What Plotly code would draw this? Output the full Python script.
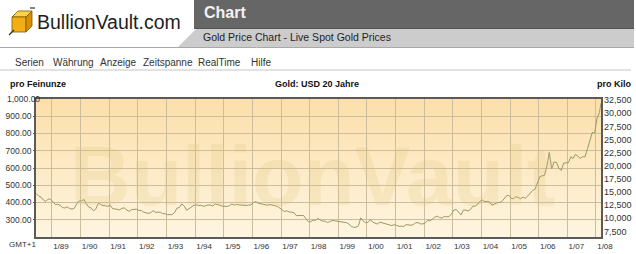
import base64
import pandas as pd
import plotly.graph_objects as go

# ---------------- data (monthly gold price, USD per troy ounce) ----------------
first_month = "1988-06-01"
gold_usd_oz = [
    # 1988 Jun-Dec
    452, 438, 431, 414, 406, 420, 419,
    # 1989
    404, 388, 390, 384, 371, 368, 375, 365, 362, 367, 394, 409,
    # 1990
    410, 417, 393, 374, 369, 352, 362, 395, 389, 381, 381, 378,
    # 1991
    384, 364, 363, 358, 357, 367, 368, 356, 349, 359, 360, 361,
    # 1992
    354, 354, 344, 339, 337, 341, 353, 343, 345, 344, 335, 335,
    # 1993
    329, 329, 330, 342, 367, 371, 392, 380, 355, 364, 374, 383,
    # 1994
    387, 382, 384, 378, 381, 386, 385, 380, 392, 390, 384, 379,
    # 1995
    379, 377, 382, 391, 385, 388, 386, 384, 383, 383, 385, 387,
    # 1996
    400, 405, 396, 393, 392, 385, 384, 388, 383, 381, 378, 369,
    # 1997
    355, 347, 352, 345, 344, 341, 324, 324, 323, 325, 306, 289,
    # 1998
    289, 298, 296, 308, 299, 292, 293, 284, 289, 296, 294, 292,
    # 1999
    287, 287, 286, 283, 276, 261, 256, 257, 265, 311, 293, 283,
    # 2000
    285, 301, 286, 280, 275, 286, 282, 275, 274, 270, 266, 272,
    # 2001
    266, 262, 263, 261, 272, 270, 268, 272, 283, 283, 276, 276,
    # 2002
    282, 296, 294, 303, 315, 321, 313, 310, 319, 317, 319, 333,
    # 2003
    357, 359, 341, 328, 356, 356, 351, 360, 379, 379, 390, 408,
    # 2004
    414, 405, 407, 403, 384, 392, 398, 401, 405, 421, 439, 442,
    # 2005
    424, 423, 434, 429, 422, 431, 425, 438, 456, 470, 477, 510,
    # 2006
    550, 555, 557, 611, 690, 596, 634, 633, 598, 586, 628, 630,
    # 2007
    631, 665, 655, 679, 667, 656, 665, 665, 713, 755, 806, 803,
    # 2008 Jan-Feb
    890, 922,
]
last_date = "2008-03-04"
last_price = 975

KILO_PER_OZ = 32.1507  # troy ounces per kilogram

x_range = ["1988-06-12", "2008-03-05"]
left_range = [200, 1000]
left_ticks = [300, 400, 500, 600, 700, 800, 900]
left_top_label = "1,000.00"
right_ticks = [7500, 10000, 12500, 15000, 17500, 20000, 22500, 25000, 27500, 30000, 32500]
menu_items = ["Serien", "Währung", "Anzeige", "Zeitspanne", "RealTime", "Hilfe"]
menu_x = [14, 52, 99, 142, 197, 250]

dates = list(pd.date_range(first_month, periods=len(gold_usd_oz), freq="MS") + pd.Timedelta(days=14))
dates.append(pd.Timestamp(last_date))
prices = gold_usd_oz + [last_price]

# ---------------- geometry helpers ----------------
W, H = 636, 254
ML, MR, MT, MB = 36, 35, 96, 17
PW, PH = W - ML - MR, H - MT - MB
PLOT_TOP = 99  # px where the price frame starts


def px(x):
    return (x - ML) / PW


def py(y):
    return (H - MB - y) / PH


plot_dom_top = py(PLOT_TOP)
right_top = left_range[0] * KILO_PER_OZ + (left_range[1] - left_range[0]) * KILO_PER_OZ / plot_dom_top

FONT = "Liberation Sans, Arial, sans-serif"

fig = go.Figure()
fig.add_trace(go.Scatter(
    x=dates, y=prices, mode="lines",
    line=dict(color="#9a9866", width=1),
    hoverinfo="skip", showlegend=False,
))

grad_svg = (
    '<svg xmlns="http://www.w3.org/2000/svg" width="100" height="100" preserveAspectRatio="none">'
    '<defs><linearGradient id="g" x1="0" y1="0" x2="0" y2="1">'
    '<stop offset="0" stop-color="#FCDFAA"/><stop offset="1" stop-color="#FEF5E0"/>'
    '</linearGradient></defs><rect width="100" height="100" fill="url(#g)"/></svg>'
)
grad_src = "data:image/svg+xml;base64," + base64.b64encode(grad_svg.encode()).decode()

shapes = []


def rect_path(points, fill, line_color=None, lw=0):
    d = "M " + " L ".join(f"{px(a):.5f},{py(b):.5f}" for a, b in points) + " Z"
    shapes.append(dict(type="path", path=d, xref="paper", yref="paper",
                       fillcolor=fill, line=dict(color=line_color or fill, width=lw), layer="above"))


def hline(x0, x1, y, color, w=1):
    shapes.append(dict(type="line", xref="paper", yref="paper", x0=px(x0), x1=px(x1),
                       y0=py(y), y1=py(y), line=dict(color=color, width=w), layer="above"))


# header bands
rect_path([(194, 0), (634, 0), (634, 28), (194, 28)], "#666666")
rect_path([(197, 28), (634, 28), (634, 47), (178, 47)], "#cccccc")
hline(0, 634, 47.5, "#a8a8a8", 1)
hline(194, 634, 28.5, "#555555", 1)
hline(0, 631, 70, "#e2e2e2", 2)

# gold cube logo
rect_path([(12, 17), (18, 11), (32, 11), (26, 17)], "#FFD24A", "#7a5a00", 0.8)
rect_path([(12, 17), (26, 17), (26, 32), (12, 32)], "#F2AE12", "#7a5a00", 0.8)
rect_path([(26, 17), (32, 11), (32, 26), (26, 32)], "#D98F00", "#7a5a00", 0.8)
shapes.append(dict(type="line", xref="paper", yref="paper", x0=px(9), y0=py(35), x1=px(14), y1=py(30),
                   line=dict(color="#333", width=1.2), layer="above"))
shapes.append(dict(type="line", xref="paper", yref="paper", x0=px(30), y0=py(8), x1=px(35), y1=py(8),
                   line=dict(color="#333", width=1.2), layer="above"))

annotations = []


def text(x, y, s, size, color="#333", xanchor="left", bold=False, family=FONT):
    annotations.append(dict(
        x=px(x), y=py(y), xref="paper", yref="paper", text=f"<b>{s}</b>" if bold else s,
        showarrow=False, xanchor=xanchor, yanchor="middle", borderpad=0,
        font=dict(size=size, color=color, family=family),
    ))


text(36, 22, "BullionVault.com", 19.5, "#1e1e1e")
text(203, 12, "Chart", 16, "#f2f2f2", bold=True)
text(202, 37, "Gold Price Chart - Live Spot Gold Prices", 10.5, "#1e1e1e")
for name, xm in zip(menu_items, menu_x):
    text(xm, 62, name, 10, "#333")
text(9, 84, "pro Feinunze", 9, "#111", bold=True)
text(317, 84, "Gold: USD 20 Jahre", 9, "#111", xanchor="center", bold=True)
text(632, 84, "pro Kilo", 9, "#111", xanchor="right", bold=True)
text(8, 244, "GMT+1", 8, "#333")
text(41, 99, left_top_label, 8.5, "#333", xanchor="right")

# watermark
annotations.append(dict(
    x=px(312), y=py(176), xref="paper", yref="paper", text="<b>BullionVault</b>",
    showarrow=False, xanchor="center", yanchor="middle",
    font=dict(size=84, color="rgba(214,190,110,0.18)", family=FONT),
))

fig.update_layout(
    width=W, height=H,
    margin=dict(l=ML, r=MR, t=MT, b=MB, pad=0, autoexpand=False),
    paper_bgcolor="white",
    plot_bgcolor="rgba(0,0,0,0)",
    showlegend=False,
    images=[dict(source=grad_src, xref="paper", yref="paper", x=0, y=plot_dom_top,
                 sizex=1, sizey=plot_dom_top, xanchor="left", yanchor="top",
                 sizing="stretch", layer="below")],
    shapes=shapes,
    annotations=annotations,
    xaxis=dict(
        type="date", range=x_range, tick0="1989-01-01", dtick="M12", tickformat="%-m/%y",
        showgrid=True, gridcolor="#cdbd9f", gridwidth=1,
        showline=True, linecolor="#5a5a5a", linewidth=1.5, mirror=True,
        ticks="", ticklabelshift=9, ticklabelstandoff=1, automargin=False,
        tickfont=dict(size=8, color="#333", family=FONT),
        zeroline=False, fixedrange=True,
    ),
    yaxis=dict(
        range=left_range, domain=[0, plot_dom_top], tickvals=left_ticks, tickformat=",.2f",
        showgrid=True, gridcolor="#cdbd9f", gridwidth=1,
        showline=True, linecolor="#5a5a5a", linewidth=1.5, mirror=True,
        ticks="outside", ticklen=1, tickcolor="#5a5a5a", ticklabelstandoff=0, automargin=False,
        tickfont=dict(size=8.5, color="#333", family=FONT),
        zeroline=False, fixedrange=True,
    ),
    yaxis2=dict(
        overlaying="y", side="right", anchor="x", domain=[0, 1],
        range=[left_range[0] * KILO_PER_OZ, right_top], tickvals=right_ticks, tickformat=",d",
        showgrid=False, showline=False, ticks="", ticklabelstandoff=2, automargin=False,
        tickfont=dict(size=9, color="#333", family=FONT),
        zeroline=False, fixedrange=True,
    ),
)
# invisible trace to activate the right axis
fig.add_trace(go.Scatter(x=[dates[0]], y=[prices[0] * KILO_PER_OZ], yaxis="y2", mode="markers",
                         marker=dict(opacity=0), hoverinfo="skip", showlegend=False))

fig.write_html("out.html")
